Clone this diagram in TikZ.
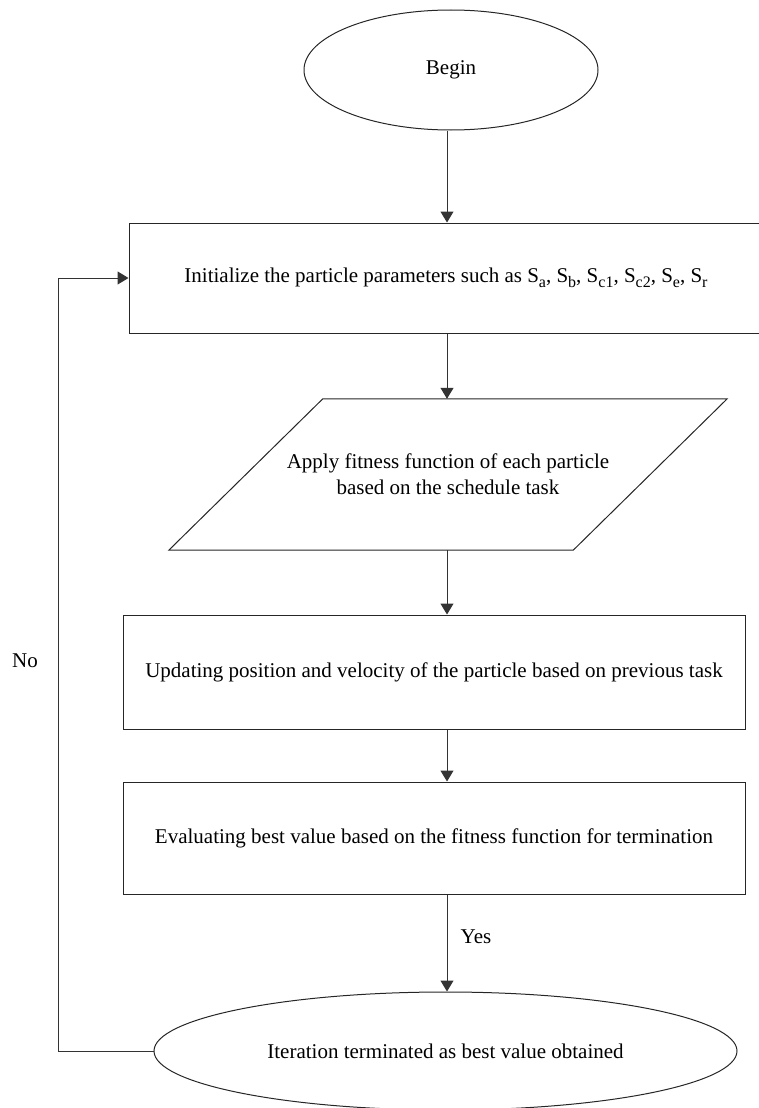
\documentclass[tikz,border=0pt]{standalone}
\usepackage{fontspec}
\setmainfont{Liberation Serif}
\usetikzlibrary{shapes,arrows.meta,positioning,calc}

\newcommand{\subtxt}[1]{\raisebox{-0.25em}{\fontsize{16}{16}\selectfont #1}}

\tikzset{
	flowbox/.style={draw=black!85, rectangle, line width=1pt, inner sep=0pt, align=center},
	flowend/.style={draw=black!85, ellipse, line width=1pt, inner sep=0pt, align=center},
	flowarr/.style={draw=black!80, line width=1pt, -{Triangle[width=13pt,length=11pt]}}
}

\begin{document}
\begin{tikzpicture}[x=1pt, y=-1pt, font=\fontsize{21}{26}\selectfont]
	\useasboundingbox (0,0) rectangle (759,1108);

	% Start
	\node[flowend, minimum width=294pt, minimum height=120pt] (begin) at (451,70) {Begin};

	% Steps
	\node[flowbox, minimum width=634pt, minimum height=110pt] (init) at (446,278)
		{Initialize the particle parameters such as S\subtxt{a}, S\subtxt{b}, S\subtxt{c1}, S\subtxt{c2}, S\subtxt{e}, S\subtxt{r}};
	\node[minimum width=404pt, minimum height=151pt, inner sep=0pt, align=center] (apply) at (448,474.5)
		{Apply fitness function of each particle\\based on the schedule task};
	\draw[black!85, line width=1pt] ([xshift=77pt]apply.north west) -- ([xshift=77pt]apply.north east)
		-- ([xshift=-77pt]apply.south east) -- ([xshift=-77pt]apply.south west) -- cycle;
	\node[flowbox, minimum width=622pt, minimum height=114pt] (update) at (434,672)
		{Updating position and velocity of the particle based on previous task};
	\node[flowbox, minimum width=622pt, minimum height=112pt] (eval) at (434,838)
		{Evaluating best value based on the fitness function for termination};

	% End
	\node[flowend, minimum width=583pt, minimum height=118pt] (finish) at (445.5,1051)
		{Iteration terminated as best value obtained};

	\node (yes) at (476,937) {Yes};
	\node (no) at (25,661) {No};

	% Arrows
	\coordinate (axis) at (447,0);
	\coordinate (turn) at (58,1051);
	\draw[flowarr] (begin.south -| axis) -- (init.north -| axis);
	\draw[flowarr] (init.south -| axis) -- (apply.north -| axis);
	\draw[flowarr] (apply.south -| axis) -- (update.north -| axis);
	\draw[flowarr] (update.south -| axis) -- (eval.north -| axis);
	\draw[flowarr] (eval.south -| axis) -- (finish.north -| axis);
	\draw[flowarr] (finish.west) -- (turn) |- (init.west);
\end{tikzpicture}
\end{document}
